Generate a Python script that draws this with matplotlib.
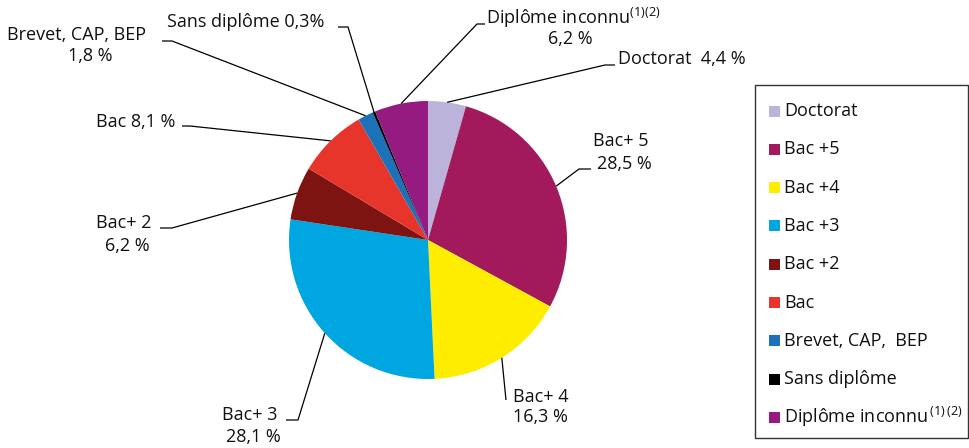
import numpy as np
import matplotlib
matplotlib.use("Agg")
import matplotlib.pyplot as plt
from matplotlib.patches import Rectangle

plt.rcParams['font.family'] = ['Open Sans', 'DejaVu Sans']
plt.rcParams['mathtext.fontset'] = 'custom'
plt.rcParams['mathtext.rm'] = 'Open Sans'
plt.rcParams['mathtext.it'] = 'Open Sans'
plt.rcParams['mathtext.bf'] = 'Open Sans'

# ---------------- data ----------------
legend_labels = ["Doctorat", "Bac +5", "Bac +4", "Bac +3", "Bac +2", "Bac",
                 "Brevet, CAP,  BEP", "Sans diplôme", "Diplôme inconnu$^{\\,(1)\\,(2)}$"]
values = [4.4, 28.5, 16.3, 28.1, 6.2, 8.1, 1.8, 0.3, 6.2]
colors = ["#BBB3D9", "#A21A5C", "#FFED00", "#00A6DF", "#7D1412", "#E8352C",
          "#1D71B8", "#000000", "#951B80"]
# label templates (value inserted with French decimal comma)
label_lines = [
    ["Doctorat  {v} %"],
    ["Bac+ 5", "{v} %"],
    ["Bac+ 4", "{v} %"],
    ["Bac+ 3", "{v} %"],
    ["Bac+ 2", "{v} %"],
    ["Bac {v} %"],
    ["Brevet, CAP, BEP", "{v} %"],
    ["Sans diplôme {v}%"],
    ["Diplôme inconnu$^{(1)(2)}$", "{v} %"],
]

# ---------------- layout (pixels, y from top) ----------------
W, H = 970, 448
CX, CY, R = 428, 240, 139
# centre of each text line
line_pos = [
    [(682, 59)],
    [(621, 141), (624, 164)],
    [(541, 397), (540, 417)],
    [(250, 415), (253, 437)],
    [(124, 223), (127, 246)],
    [(136, 122)],
    [(77, 35), (90, 56)],
    [(246, 22)],
    [(573, 18), (570, 39)],
]
# leader line path after the wedge edge point
leader = [
    [(605, 65), (615, 65)],
    [(579, 169), (591, 169)],
    [(506, 400)],
    [(298, 420), (286, 420)],
    [(172, 228), (160, 228)],
    [(190, 126), (182, 126)],
    [(172, 41), (162, 41)],
    [(348, 27), (338, 27)],
    [(477, 24), (485, 24)],
]

def Y(y):
    return H - y

fig = plt.figure(figsize=(W / 100, H / 100), dpi=100)
ax = fig.add_axes([0, 0, 1, 1])
wedges, _ = ax.pie(values, colors=colors, startangle=90, counterclock=False,
                   center=(CX, Y(CY)), radius=R, normalize=True,
                   wedgeprops=dict(linewidth=0))
ax.set_xlim(0, W)
ax.set_ylim(0, H)
ax.set_aspect('equal')
ax.axis('off')

fs = 13
for i, w in enumerate(wedges):
    mid = np.deg2rad((w.theta1 + w.theta2) / 2)
    x0 = CX + R * np.cos(mid)
    y0 = Y(CY) + R * np.sin(mid)
    pts = [(x0, y0)] + [(px, Y(py)) for px, py in leader[i]]
    xs, ys = zip(*pts)
    ax.plot(xs, ys, color='black', lw=0.9, solid_capstyle='butt', zorder=3)
    vstr = f"{values[i]:.1f}".replace('.', ',')
    for tmpl, (tx, ty) in zip(label_lines[i], line_pos[i]):
        ax.text(tx, Y(ty), tmpl.replace('{v}', vstr), ha='center', va='center',
                fontsize=fs, color='#111111')

# legend box
ax.add_patch(Rectangle((755, Y(438)), 213, 438 - 85, fill=False,
                       edgecolor='#333333', lw=1.0, zorder=2))
y_first, dy = 111, 38.3
for i, (lab, c) in enumerate(zip(legend_labels, colors)):
    yy = y_first + i * dy
    ax.add_patch(Rectangle((769, Y(yy) - 5.5), 11, 11, facecolor=c, edgecolor='none'))
    ax.text(784, Y(yy), lab, ha='left', va='center', fontsize=fs, color='#111111')

fig.savefig("out.png", dpi=100)
